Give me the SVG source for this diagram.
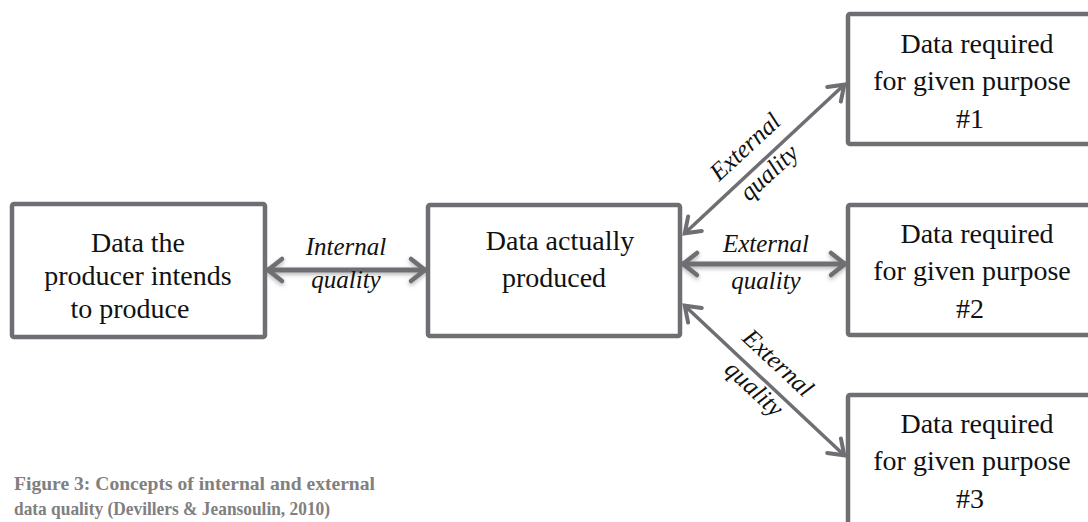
<svg xmlns="http://www.w3.org/2000/svg" width="1088" height="522" viewBox="0 0 1088 522">
<defs>
<style>
.box{fill:#fff;stroke:#6e6e73;stroke-width:4.5}
.t{font-family:"Liberation Serif","Times New Roman",serif;font-size:28px;fill:#111;text-anchor:middle}
.lbl{font-family:"Liberation Serif","Times New Roman",serif;font-size:25px;font-style:italic;fill:#111;text-anchor:middle}
.cap{font-family:"Liberation Serif","Times New Roman",serif;font-size:19px;font-weight:bold;fill:#808080}
.h{stroke:#6e6e73;stroke-width:5;fill:none}
.d{stroke:#6e6e73;stroke-width:3.5;fill:none}
</style>
<marker id="ah" markerUnits="userSpaceOnUse" markerWidth="40" markerHeight="40" viewBox="-20 -20 40 40" refX="0" refY="0" orient="auto-start-reverse" overflow="visible">
<path d="M-15,-11 L-1,0 L-15,11" fill="none" stroke="#6e6e73" stroke-width="4.5" stroke-linecap="round"/>
</marker>
<marker id="ah2" markerUnits="userSpaceOnUse" markerWidth="40" markerHeight="40" viewBox="-20 -20 40 40" refX="0" refY="0" orient="auto-start-reverse" overflow="visible">
<path d="M-15,-10 L-1,0 L-15,10" fill="none" stroke="#6e6e73" stroke-width="4" stroke-linecap="round"/>
</marker>
<filter id="sh" filterUnits="userSpaceOnUse" x="0" y="0" width="1088" height="522">
<feDropShadow dx="0" dy="2" stdDeviation="2" flood-color="#000" flood-opacity="0.3"/>
</filter>
</defs>
<rect width="1088" height="522" fill="#fff"/>

<g id="connectors">
<line class="h" x1="267" y1="270" x2="426" y2="270" marker-start="url(#ah)" marker-end="url(#ah)" filter="url(#sh)"/>
<line class="h" x1="682" y1="264" x2="846" y2="264" marker-start="url(#ah)" marker-end="url(#ah)" filter="url(#sh)"/>
<line class="d" x1="684" y1="234" x2="845" y2="84" marker-start="url(#ah2)" marker-end="url(#ah2)"/>
<line class="d" x1="684" y1="305" x2="845" y2="456" marker-start="url(#ah2)" marker-end="url(#ah2)"/>
<text class="lbl" x="346" y="255">Internal</text>
<text class="lbl" x="346" y="288">quality</text>
<text class="lbl" x="766" y="252">External</text>
<text class="lbl" x="766" y="289">quality</text>
<g transform="translate(764.5,159) rotate(-42.8)">
<text class="lbl" x="-6" y="-14">External</text>
<text class="lbl" x="-6" y="21">quality</text>
</g>
<g transform="translate(764.5,380.5) rotate(42.8)">
<text class="lbl" x="-2" y="-14">External</text>
<text class="lbl" x="-2" y="21">quality</text>
</g>
</g>

<g id="node-intended">
<rect class="box" x="12" y="204" width="253" height="133" rx="2"/>
<text class="t" x="138" y="252">Data the</text>
<text class="t" x="138" y="285">producer intends</text>
<text class="t" x="130" y="318">to produce</text>
</g>

<g id="node-produced">
<rect class="box" x="428" y="205" width="252" height="131" rx="2"/>
<text class="t" x="560" y="250">Data actually</text>
<text class="t" x="554" y="287">produced</text>
</g>

<g id="node-purpose1">
<rect class="box" x="848" y="14" width="260" height="130" rx="2"/>
<text class="t" x="977" y="53">Data required</text>
<text class="t" x="972" y="90">for given purpose</text>
<text class="t" x="970" y="128">#1</text>
</g>

<g id="node-purpose2">
<rect class="box" x="848" y="205" width="260" height="130" rx="2"/>
<text class="t" x="977" y="243">Data required</text>
<text class="t" x="972" y="280">for given purpose</text>
<text class="t" x="970" y="318">#2</text>
</g>

<g id="node-purpose3">
<rect class="box" x="848" y="395" width="260" height="150" rx="2"/>
<text class="t" x="977" y="433">Data required</text>
<text class="t" x="972" y="470">for given purpose</text>
<text class="t" x="970" y="508">#3</text>
</g>

<g id="caption">
<text class="cap" x="14" y="490" textLength="361" lengthAdjust="spacingAndGlyphs">Figure 3: Concepts of internal and external</text>
<text class="cap" x="14" y="515" textLength="316" lengthAdjust="spacingAndGlyphs">data quality (Devillers &amp; Jeansoulin, 2010)</text>
</g>
</svg>
